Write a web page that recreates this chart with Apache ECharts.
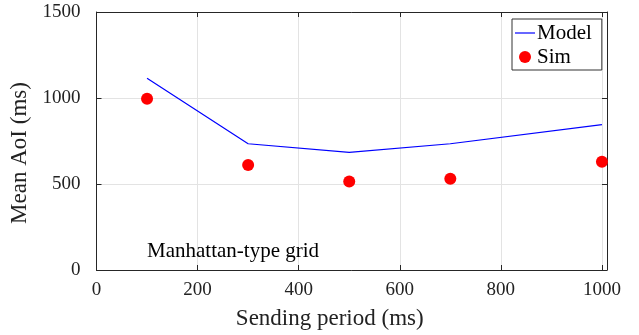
<!DOCTYPE html>
<html>
<head>
<meta charset="utf-8">
<script src="https://cdn.jsdelivr.net/npm/echarts@6/dist/echarts.min.js"></script>
<style>
  html, body { margin: 0; padding: 0; background: #fff; }
  #chart { width: 639px; height: 335px; }
</style>
</head>
<body>
<div id="chart"></div>
<script>
// Sending period (ms) and the corresponding mean AoI (ms)
const periods = [100, 300, 500, 700, 1000];
const modelAoI = [1115, 734, 684, 734, 845];
const simAoI = [996, 610, 515, 530, 630];

const FONT = '"Liberation Serif", "Times New Roman", serif';
const AXIS_COLOR = '#262626';
const GRID_COLOR = '#e3e3e3';

const chart = echarts.init(document.getElementById('chart'), null, { renderer: 'canvas' });

const baseAxis = {
  axisLine: { show: true, onZero: false, lineStyle: { color: AXIS_COLOR, width: 1 } },
  axisTick: { show: true, inside: true, length: 5, lineStyle: { color: AXIS_COLOR } },
  splitLine: { show: false }
};

chart.setOption({
  animation: false,
  backgroundColor: '#ffffff',
  grid: { left: 96.5, top: 12, right: 32, bottom: 62, containLabel: false },
  title: {
    text: 'Manhattan-type grid',
    left: 147,
    top: 241,
    padding: 0,
    textStyle: { fontFamily: FONT, fontSize: 21, fontWeight: 'normal', color: '#000' }
  },
  legend: {
    orient: 'vertical',
    left: 512,
    top: 19,
    padding: [3.5, 10, 2.5, 3],
    itemGap: 3,
    itemWidth: 20,
    itemHeight: 12,
    backgroundColor: '#fff',
    borderColor: '#333',
    borderWidth: 1,
    borderRadius: 0,
    textStyle: { fontFamily: FONT, fontSize: 21, color: '#000', padding: [0, 0, 0, -3] },
    data: [
      { name: 'Model', icon: 'path://M0,0 L20,0 L20,1.2 L0,1.2 Z' },
      { name: 'Sim', icon: 'circle' }
    ]
  },
  xAxis: [
    Object.assign({}, baseAxis, {
      type: 'value', position: 'bottom', min: 0, max: 1010, interval: 200,
      name: 'Sending period (ms)', nameLocation: 'middle', nameGap: 37,
      nameTextStyle: { fontFamily: FONT, fontSize: 23, color: '#222', padding: [0, 44, 0, 0] },
      axisLabel: {
        fontFamily: FONT, fontSize: 19, color: '#222', margin: 11,
        showMaxLabel: false,
        formatter: v => (v % 200 === 0 ? String(v) : '')
      },
      splitLine: { show: true, lineStyle: { color: GRID_COLOR, width: 1 } }
    }),
    Object.assign({}, baseAxis, {
      type: 'value', position: 'top', min: 0, max: 1010, interval: 200,
      axisLabel: { show: false }
    })
  ],
  yAxis: [
    Object.assign({}, baseAxis, {
      type: 'value', position: 'left', min: 0, max: 1500, interval: 500,
      name: 'Mean AoI (ms)', nameLocation: 'middle', nameGap: 51,
      nameTextStyle: { fontFamily: FONT, fontSize: 23, color: '#222', padding: [0, 24, 0, 0] },
      axisLabel: {
        fontFamily: FONT, fontSize: 19, color: '#222', margin: 16,
        formatter: v => String(v)
      },
      splitLine: { show: true, lineStyle: { color: GRID_COLOR, width: 1 } }
    }),
    Object.assign({}, baseAxis, {
      type: 'value', position: 'right', min: 0, max: 1500, interval: 500,
      axisLabel: { show: false }
    })
  ],
  series: [
    {
      name: 'Model',
      type: 'line',
      symbol: 'none',
      data: periods.map((p, i) => [p, modelAoI[i]]),
      lineStyle: { color: '#0000ff', width: 1.2 },
      itemStyle: { color: '#0000ff' },
      z: 3
    },
    {
      name: 'Sim',
      type: 'scatter',
      symbol: 'circle',
      symbolSize: 12,
      data: periods.map((p, i) => [p, simAoI[i]]),
      itemStyle: { color: '#ff0000', opacity: 1 },
      z: 4
    }
  ]
});
</script>
</body>
</html>
